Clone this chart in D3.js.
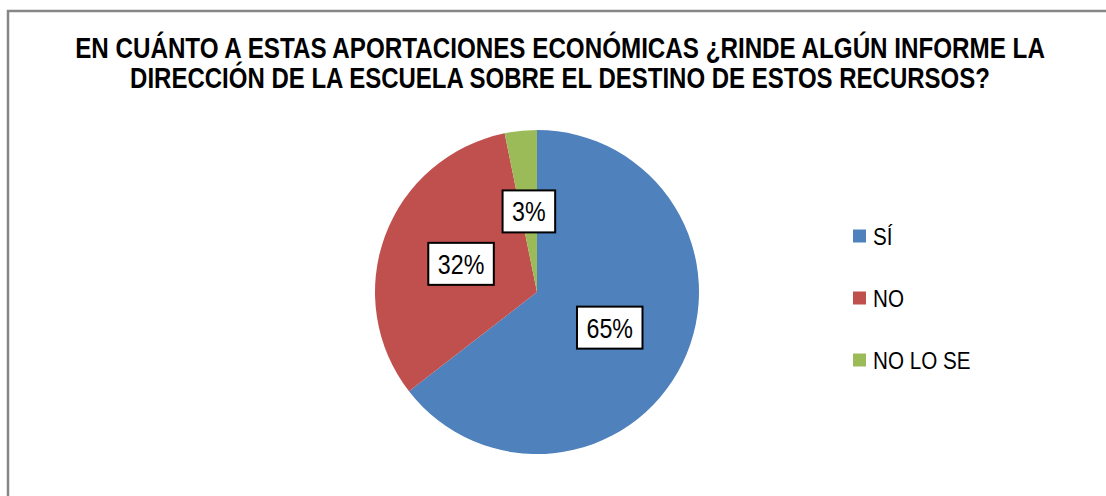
<!DOCTYPE html>
<html>
<head>
<meta charset="utf-8">
<script src="https://cdn.jsdelivr.net/npm/d3@7"></script>
<style>
html,body{margin:0;padding:0;background:#fff;}
svg{display:block;}
text{font-family:"Liberation Sans", Arial, sans-serif;}
</style>
</head>
<body>
<svg id="chart" width="1106" height="496"></svg>
<script>
const titleLines = ["EN CUÁNTO A ESTAS APORTACIONES ECONÓMICAS ¿RINDE ALGÚN INFORME LA",
                    "DIRECCIÓN DE LA ESCUELA SOBRE EL DESTINO DE ESTOS RECURSOS?"];
const categories = ["SÍ", "NO", "NO LO SE"];
const values = [64.5, 32.3, 3.2];
const colors = ["#4F81BD", "#C0504D", "#9BBB59"];

const svg = d3.select("#chart");

// outer border (cropped on right/bottom)
svg.append("rect").attr("x", 8).attr("y", 11).attr("width", 1200).attr("height", 600)
  .attr("fill", "#fff").attr("stroke", "#868686").attr("stroke-width", 2.5);

// title: condensed via horizontal scale to the target width
const titleX = 560, titleY = [58, 88], titleW = [970, 860];
titleLines.forEach((t, i) => {
  const tg = svg.append("g");
  const txt = tg.append("text").attr("x", 0).attr("y", 0)
    .attr("text-anchor", "middle").attr("font-weight", "bold").attr("font-size", 29)
    .attr("fill", "#000").text(t);
  const w = txt.node().getComputedTextLength();
  tg.attr("transform", `translate(${titleX},${titleY[i]}) scale(${titleW[i] / w},1)`);
});

// pie
const cx = 537, cy = 292, r = 162;
const data = categories.map((c, i) => ({cat: c, value: values[i], color: colors[i]}));
const pie = d3.pie().value(d => d.value).sort(null);
const arc = d3.arc().innerRadius(0).outerRadius(r);
const arcs = pie(data);
const g = svg.append("g").attr("transform", `translate(${cx},${cy})`);
g.selectAll("path.slice").data(arcs).join("path").attr("class", "slice")
  .attr("d", arc).attr("fill", d => d.data.color);

// labels
const squeeze = 0.83;
const total = d3.sum(values);
arcs.forEach(a => {
  const [x, y] = arc.centroid(a);
  const lg = g.append("g").attr("transform", `translate(${x},${y})`);
  const box = lg.append("rect");
  const tg = lg.append("g");
  const t = tg.append("text").attr("text-anchor", "middle").attr("dy", "0.36em")
    .attr("font-size", 28).attr("fill", "#000")
    .text(Math.round(a.data.value / total * 100) + "%");
  const tw = t.node().getComputedTextLength() * squeeze;
  tg.attr("transform", `scale(${squeeze},1)`);
  box.attr("x", -tw / 2 - 9.5).attr("y", -21).attr("width", tw + 19).attr("height", 42)
    .attr("fill", "#fff").attr("stroke", "#000").attr("stroke-width", 2);
});

// legend
const legY = d3.scalePoint().domain(categories).range([236, 360]);
const leg = svg.append("g");
categories.forEach((c, i) => {
  const y = legY(c);
  leg.append("rect").attr("x", 853).attr("y", y - 6.5).attr("width", 13).attr("height", 13)
    .attr("fill", colors[i]);
  leg.append("g").attr("transform", `translate(873,${y + 8.5}) scale(0.86,1)`)
    .append("text").attr("x", 0).attr("y", 0)
    .attr("font-size", 24).attr("fill", "#000").text(c);
});
</script>
</body>
</html>
